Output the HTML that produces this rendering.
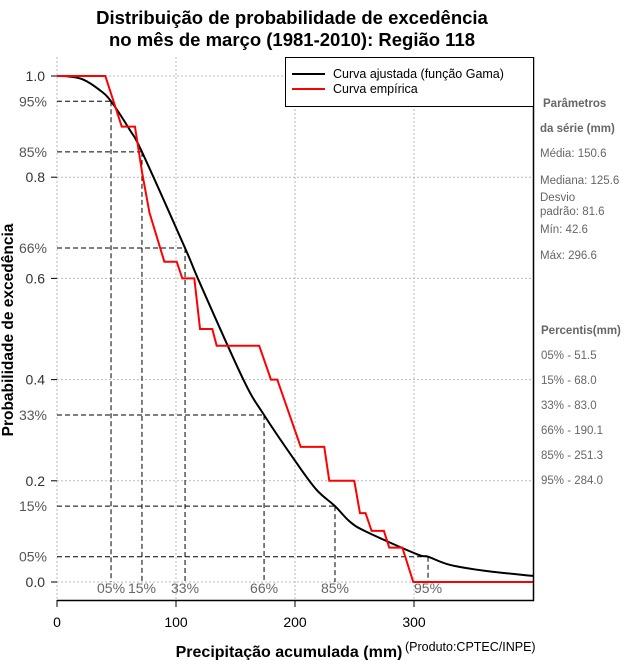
<!DOCTYPE html>
<html><head><meta charset="utf-8"><style>
body{margin:0;background:#fff;}
svg{display:block;font-family:"Liberation Sans",sans-serif;}
</style></head><body>
<svg id="chart" width="640" height="660" viewBox="0 0 640 660" xmlns="http://www.w3.org/2000/svg">
<g font-weight="bold" font-size="18.5" text-anchor="middle" fill="#000">
<text x="292" y="24">Distribuição de probabilidade de excedência</text>
<text x="292" y="46">no mês de março (1981-2010): Região 118</text>
</g>
<g id="grid"></g>
<g id="refs"></g>
<g id="series"></g>
<g id="axes"></g>
<g>
<rect x="285.5" y="57.5" width="248" height="49" fill="#fff" stroke="#000" stroke-width="1"/>
<line x1="292" y1="74" x2="325" y2="74" stroke="#000" stroke-width="2"/>
<text x="333" y="78" font-size="12.5">Curva ajustada (função Gama)</text>
<line x1="292" y1="89" x2="325" y2="89" stroke="#f00" stroke-width="2"/>
<text x="333" y="93" font-size="12.5">Curva empírica</text>
</g>
<text transform="translate(13,330) rotate(-90)" text-anchor="middle" font-weight="bold" font-size="15.5">Probabilidade de excedência</text>
<text x="289" y="657" text-anchor="middle" font-weight="bold" font-size="16">Precipitação acumulada (mm)</text>
<text x="405" y="651" font-size="12.5">(Produto:CPTEC/INPE)</text>
<g fill="#666" font-size="11.5">
<text x="543" y="107" font-weight="bold">Parâmetros</text>
<text x="540" y="132" font-weight="bold">da série (mm)</text>
<text x="540" y="157">Média: 150.6</text>
<text x="540" y="184">Mediana: 125.6</text>
<text x="540" y="201">Desvio</text>
<text x="540" y="215">padrão: 81.6</text>
<text x="540" y="233">Mín: 42.6</text>
<text x="540" y="259">Máx: 296.6</text>
<text x="541" y="334" font-weight="bold">Percentis(mm)</text>
<text x="541" y="359">05% - 51.5</text>
<text x="541" y="384">15% - 68.0</text>
<text x="541" y="409">33% - 83.0</text>
<text x="541" y="434">66% - 190.1</text>
<text x="541" y="459">85% - 251.3</text>
<text x="541" y="484">95% - 284.0</text>
</g>
</svg>
<script>
const xTicks=[0,100,200,300];
const yTicks=[0,0.2,0.4,0.6,0.8,1.0];
const yTickLabels=["0.0","0.2","0.4","0.6","0.8","1.0"];
const pctLevels=[0.95,0.85,0.66,0.33,0.15,0.05];
const pctLabels=["95%","85%","66%","33%","15%","05%"];
const pctX=[45.4,71.4,107.6,174,233.6,311.8];
const bottomLabels=["05%","15%","33%","66%","85%","95%"];
const gammaX=[0,10,22,36,45.4,61.3,71.4,107.6,120.2,156.6,174,201.4,218.2,233.6,246.2,260.2,302.3,311.8,330,360,400];
const gammaP=[1.0,0.999,0.993,0.972,0.95,0.893,0.85,0.66,0.59,0.4,0.33,0.235,0.182,0.15,0.119,0.099,0.055,0.05,0.034,0.022,0.012];
const empX=[0,40.6,54.4,65.5,71.6,77.7,90.2,100.6,105.3,115.4,120.2,130.5,134.2,169.9,179.8,185.1,204.8,224.6,228.8,249.8,254.6,259.3,264.4,274.7,279.2,290.2,299.4,400];
const empP=[1.0,1.0,0.9,0.9,0.808,0.73,0.633,0.633,0.6,0.6,0.5,0.5,0.467,0.467,0.4,0.4,0.267,0.267,0.2,0.2,0.136,0.136,0.101,0.101,0.068,0.068,0,0];
const X0=57,X1=533,Y0=57,Y1=600;
function xs(v){return 57+v*1.19;}
function ys(p){return 582-p*506;}
const NS="http://www.w3.org/2000/svg";
function mk(tag,attrs,parent){const e=document.createElementNS(NS,tag);for(const k in attrs)e.setAttribute(k,attrs[k]);parent.appendChild(e);return e;}
const grid=document.getElementById('grid'),refs=document.getElementById('refs'),series=document.getElementById('series'),axes=document.getElementById('axes');
xTicks.forEach(t=>{const l=mk('line',{x1:xs(t),x2:xs(t),y1:Y0,y2:Y1,stroke:'#bbb','stroke-dasharray':'2,2'},grid);

});
yTicks.forEach(t=>{const l=mk('line',{x1:X0,x2:X1,y1:ys(t),y2:ys(t),stroke:'#bbb','stroke-dasharray':'2,2'},grid);

});
pctLevels.forEach((p,i)=>{
const h=mk('line',{x1:X0,x2:xs(pctX[i]),y1:ys(p),y2:ys(p),stroke:'#000','stroke-dasharray':'5,3'},refs);


const v=mk('line',{x1:xs(pctX[i]),x2:xs(pctX[i]),y1:ys(p),y2:ys(0),stroke:'#000','stroke-dasharray':'5,3'},refs);


const t=mk('text',{x:47,y:ys(p)+5,'text-anchor':'end','font-size':14,fill:'#555'},axes);t.textContent=pctLabels[i];


});
const sortedX=pctX.slice().sort((a,b)=>a-b);
sortedX.forEach((x,i)=>{const t=mk('text',{x:xs(x),y:593,'text-anchor':'middle','font-size':14,fill:'#666'},axes);t.textContent=bottomLabels[i];

});
function smoothPath(px,py){
  let d='M'+px[0]+' '+py[0];
  for(let i=0;i<px.length-1;i++){
    const p0=i>0?i-1:i,p3=i+2<px.length?i+2:i+1;
    const c1x=px[i]+(px[i+1]-px[p0])/6,c1y=py[i]+(py[i+1]-py[p0])/6;
    const c2x=px[i+1]-(px[p3]-px[i])/6,c2y=py[i+1]-(py[p3]-py[i])/6;
    d+=` C${c1x} ${c1y} ${c2x} ${c2y} ${px[i+1]} ${py[i+1]}`;
  }
  return d;
}
const gp=mk('path',{d:smoothPath(gammaX.map(xs),gammaP.map(ys)),fill:'none',stroke:'#000','stroke-width':2},series);


const ep=mk('polyline',{points:empX.map((x,i)=>xs(x)+','+ys(empP[i])).join(' '),fill:'none',stroke:'#f00','stroke-width':2},series);


const bx=mk('path',{d:`M${X0} ${Y1+0.5}H${X1+0.5}V${Y0}`,fill:'none',stroke:'#000','stroke-width':1.5},axes);


xTicks.forEach(t=>{const l=mk('line',{x1:xs(t),x2:xs(t),y1:Y1,y2:Y1+7,stroke:'#000'},axes);


const tx=mk('text',{x:xs(t),y:627,'text-anchor':'middle','font-size':14},axes);tx.textContent=t;

});
yTicks.forEach((t,i)=>{const l=mk('line',{x1:X0-6,x2:X0,y1:ys(t),y2:ys(t),stroke:'#000'},axes);


const tx=mk('text',{x:45,y:ys(t)+5,'text-anchor':'end','font-size':14,fill:'#333'},axes);tx.textContent=yTickLabels[i];

});
</script>
</body></html>
